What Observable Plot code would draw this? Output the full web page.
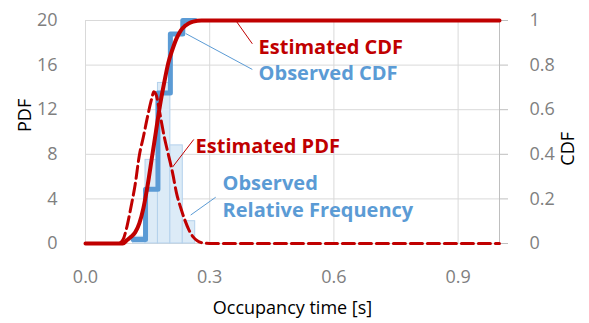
<!DOCTYPE html>
<html><head><meta charset="utf-8">
<script src="https://cdn.jsdelivr.net/npm/d3@7"></script>
<script src="https://cdn.jsdelivr.net/npm/@observablehq/plot@0.6"></script>
<style>body{margin:0;background:#fff}</style>
</head><body><div id="chart"></div>
<script>
// Observed relative frequency histogram (PDF units)
const binStart = [0.115, 0.145, 0.175, 0.205, 0.235];
const binEnd   = [0.145, 0.175, 0.205, 0.235, 0.265];
const binPdf   = [0.6, 7.5, 14.4, 8.8, 2.0];
// Observed CDF (step)
const obsCdfX = [0.115, 0.145, 0.175, 0.205, 0.235, 0.265];
const obsCdfY = [0.018, 0.243, 0.675, 0.939, 1.0, 1.0];
// Estimated PDF
const estPdfX = [0, 0.08, 0.09, 0.10, 0.11, 0.12, 0.13, 0.14, 0.15, 0.16, 0.165, 0.17, 0.18, 0.19, 0.20, 0.21, 0.22, 0.23, 0.24, 0.25, 0.26, 0.27, 0.28, 0.29, 0.30, 1.0];
const estPdfY = [0, 0, 0.3, 1.5, 3.3, 5.3, 7.9, 9.6, 11.4, 13.0, 13.6, 13.4, 11.6, 9.6, 8.0, 6.4, 4.5, 3.2, 2.1, 1.2, 0.6, 0.25, 0.08, 0.02, 0, 0];
// Estimated CDF
const estCdfX = [0, 0.09, 0.10, 0.11, 0.12, 0.13, 0.14, 0.15, 0.16, 0.17, 0.18, 0.19, 0.20, 0.21, 0.22, 0.23, 0.24, 0.25, 0.26, 0.28, 1.0];
const estCdfY = [0, 0, 0.015, 0.03, 0.05, 0.09, 0.16, 0.26, 0.38, 0.50, 0.62, 0.72, 0.81, 0.87, 0.92, 0.955, 0.975, 0.988, 0.995, 1.0, 1.0];
// Axis ticks
const xTicks = [0, 0.3, 0.6, 0.9];
const pdfTicks = [0, 4, 8, 12, 16, 20];
const cdfTicks = [0, 0.2, 0.4, 0.6, 0.8, 1];
const pdfPerCdf = 20;
// Annotation labels (data units: x in s, y in PDF units)
const labelText  = ["Estimated CDF", "Observed CDF", "Estimated PDF", "Observed\nRelative Frequency"];
const labelX     = [0.418, 0.418, 0.266, 0.331];
const labelY     = [17.76, 15.43, 8.92, 4.39];
const labelColor = ["#C00000", "#5B9BD5", "#C00000", "#5B9BD5"];
const leaderX1 = [0.363, 0.242, 0.210, 0.254];
const leaderY1 = [20.0, 18.83, 6.84, 2.55];
const leaderX2 = [0.403, 0.403, 0.2615, 0.3145];
const leaderY2 = [17.91, 15.61, 9.33, 4.15];

const RED = "#C00000", BLUE = "#5B9BD5", GRID = "#d9d9d9", GRAY = "#7f7f7f";

const bins = binStart.map((s, i) => ({x1: s, x2: binEnd[i], y: binPdf[i]}));
const obsCdf = obsCdfX.map((x, i) => ({x, y: obsCdfY[i] * pdfPerCdf}));
const estPdf = estPdfX.map((x, i) => ({x, y: estPdfY[i]}));
const estCdf = estCdfX.map((x, i) => ({x, y: estCdfY[i] * pdfPerCdf}));
const labels = labelText.map((t, i) => ({t, x: labelX[i], y: labelY[i], c: labelColor[i]}));
const leaders = leaderX1.map((x1, i) => ({x1, y1: leaderY1[i], x2: leaderX2[i], y2: leaderY2[i], c: labelColor[i]}));

const chart = Plot.plot({
  width: 589, height: 323,
  marginLeft: 85, marginRight: 90, marginTop: 20, marginBottom: 80,
  style: {fontFamily: "'Open Sans', sans-serif", fontSize: "18px", background: "#fff", overflow: "visible"},
  x: {domain: [0, 1]},
  y: {domain: [0, 20]},
  marks: [
    Plot.gridY(pdfTicks, {stroke: GRID, strokeOpacity: 1, strokeWidth: 1}),
    Plot.gridX([0, ...xTicks.slice(1)], {stroke: GRID, strokeOpacity: 1, strokeWidth: 1}),
    Plot.ruleX([1], {stroke: "#bfbfbf", strokeWidth: 1}),
    Plot.axisY(pdfTicks, {anchor: "left", tickSize: 0, tickPadding: 28, fill: GRAY, label: null, fontSize: 18}),
    Plot.axisY(cdfTicks.map(d => d * pdfPerCdf), {anchor: "right", tickSize: 8, tickPadding: 22, stroke: "#bfbfbf", fill: GRAY, label: null, fontSize: 18, tickFormat: d => d3.format("~g")(d / pdfPerCdf)}),
    Plot.axisX(xTicks, {anchor: "bottom", tickSize: 0, tickPadding: 27, fill: GRAY, label: null, fontSize: 18, tickFormat: d3.format(".1f")}),
    Plot.text(["PDF"], {frameAnchor: "left", rotate: -90, dx: -60, fontSize: 18, fill: "#000"}),
    Plot.text(["CDF"], {frameAnchor: "right", rotate: -90, dx: 69, fontSize: 18, fill: "#000"}),
    Plot.text(["Occupancy time [s]"], {frameAnchor: "bottom", dy: 65, lineAnchor: "middle", fontSize: 18, fill: "#000"}),
    Plot.rectY(bins, {x1: "x1", x2: "x2", y: "y", fill: "#dcebf7", stroke: "#b4d1ec", strokeWidth: 1}),
    Plot.line(obsCdf, {x: "x", y: "y", curve: "step-after", stroke: BLUE, strokeWidth: 5}),
    Plot.line(estPdf, {x: "x", y: "y", curve: "monotone-x", stroke: RED, strokeWidth: 3, strokeDasharray: "12,5"}),
    Plot.line(estCdf, {x: "x", y: "y", curve: "monotone-x", stroke: RED, strokeWidth: 4}),
    Plot.link(leaders, {x1: "x1", y1: "y1", x2: "x2", y2: "y2", stroke: "c", strokeWidth: 1}),
    Plot.text(labels, {x: "x", y: "y", text: "t", fill: "c", textAnchor: "start", lineAnchor: "middle", fontWeight: "bold", fontSize: 20, lineHeight: 1.37})
  ]
});
document.getElementById("chart").appendChild(chart);
</script>
</body></html>
